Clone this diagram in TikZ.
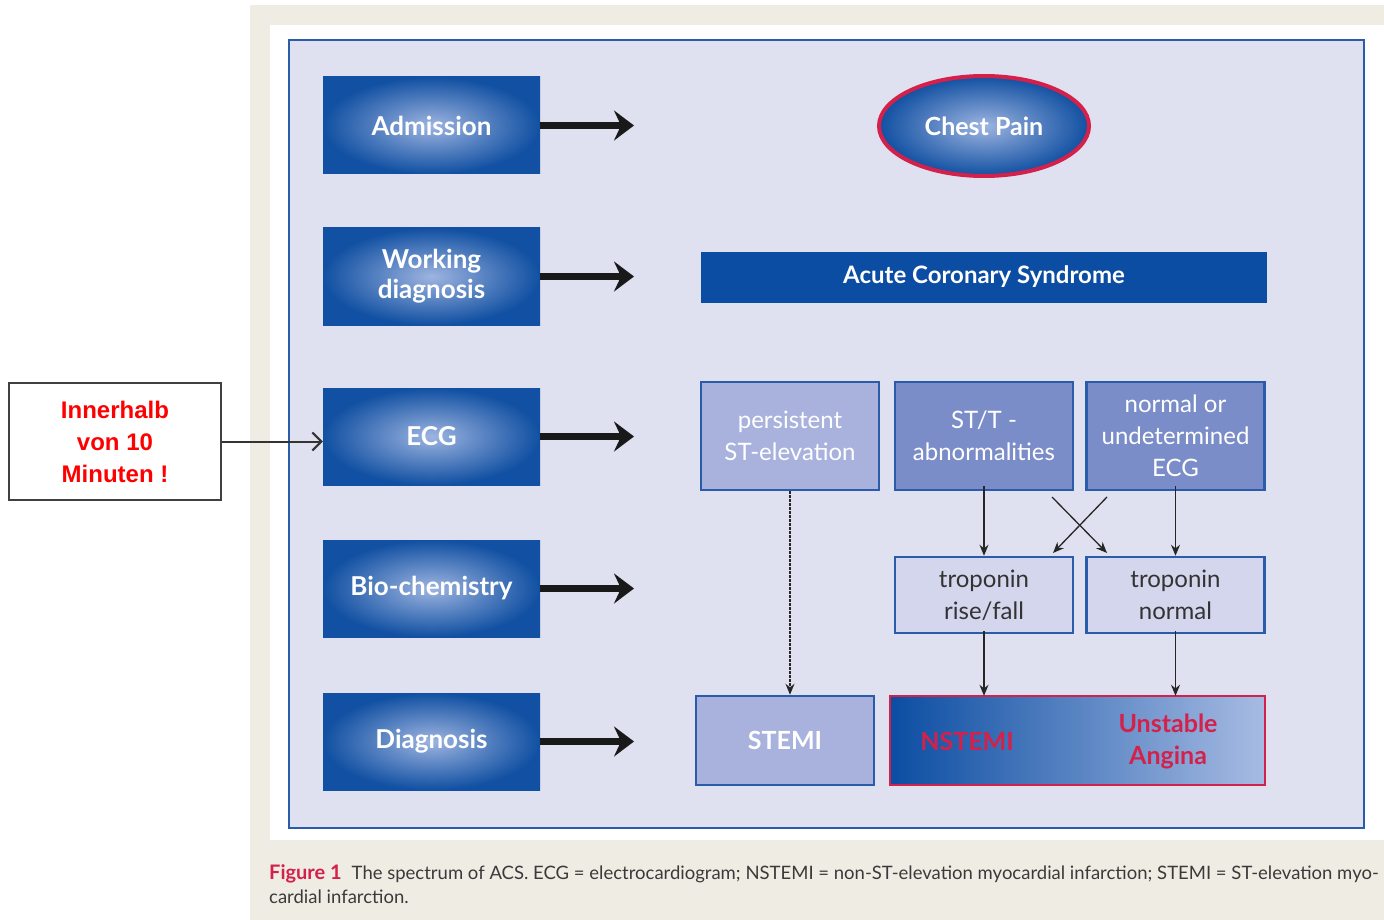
\documentclass[tikz,border=0pt]{standalone}
\usepackage{fontspec}
\setmainfont{Lato}
\newfontfamily\arialfont{Liberation Sans}
\usetikzlibrary{arrows.meta,shapes.geometric}
\definecolor{beige}{HTML}{EFECE3}
\definecolor{lav}{HTML}{E0E1F0}
\definecolor{pborder}{HTML}{2A5CAA}
\definecolor{dblue}{HTML}{1150A2}
\definecolor{lblue}{HTML}{9DB4E0}
\definecolor{acsblue}{HTML}{0B4DA2}
\definecolor{pfill}{HTML}{A8B2DC}
\definecolor{mfill}{HTML}{7B8DC8}
\definecolor{tfill}{HTML}{D3D6EC}
\definecolor{redb}{HTML}{D4214C}
\definecolor{capgray}{HTML}{3A3A3A}
\tikzset{
  stagebox/.style={minimum width=217pt,minimum height=97pt,inner sep=0pt,
    shade,inner color=lblue,outer color=dblue,text=white,font=\fontsize{26}{30}\selectfont\bfseries,align=center},
  ecgbox/.style={draw=pborder,line width=2.5pt,fill=mfill,minimum width=178pt,minimum height=108pt,inner sep=0pt,
    text=white,font=\fontsize{24}{32}\selectfont,align=center},
  tropbox/.style={draw=pborder,line width=2.5pt,fill=tfill,minimum width=178pt,minimum height=76pt,inner sep=0pt,
    text=black!80,font=\fontsize{24}{32}\selectfont,align=center},
  bigarrow/.style={line width=7pt,-{Stealth[length=20pt,width=30pt,inset=7pt]},black!90},
  smallarrow/.style={line width=1.3pt,-{Stealth[length=11pt,width=9pt]},black!85},
}
\begin{document}
\begin{tikzpicture}[x=1pt,y=-1pt]
\useasboundingbox (0,0) rectangle (1384,920);
\fill[white] (0,0) rectangle (1384,920);
% backgrounds
\fill[beige] (250,5) rectangle (1384,920);
\fill[white] (270,25) rectangle (1384,840);
\draw[pborder,fill=lav,line width=2.5pt] (289,40) rectangle (1364,828);

% stage boxes
\node[stagebox] (adm) at (431.5,125.5) {Admission};
\node[stagebox] (work) at (431.5,276.5) {Working\\diagnosis};
\node[stagebox] (ecg) at (431.5,436.5) {ECG};
\node[stagebox] (bio) at (431.5,588.5) {Bio-chemistry};
\node[stagebox] (diag) at (431.5,741.5) {Diagnosis};

% targets for big arrows
\coordinate (t1) at (634,125.5);
\coordinate (t2) at (634,276.5);
\coordinate (t3) at (634,436.5);
\coordinate (t4) at (634,588.5);
\coordinate (t5) at (634,741.5);
\foreach \s/\t in {adm/t1,work/t2,ecg/t3,bio/t4,diag/t5}
  \draw[bigarrow] (\s.east) -- (\t);

% chest pain
\node[ellipse,draw=redb,line width=4pt,shade,inner color=lblue,outer color=dblue,
  minimum width=210pt,minimum height=100pt,text=white,font=\fontsize{25}{28}\selectfont\bfseries] (cp) at (984,126) {Chest Pain};

% ACS bar
\node[fill=acsblue,minimum width=566pt,minimum height=51pt,inner sep=0pt,text=white,
  font=\fontsize{24}{28}\selectfont\bfseries] (acs) at (984,277) {Acute Coronary Syndrome};

% ECG boxes
\node[ecgbox,fill=pfill] (pers) at (790,436) {persistent\\ST-elevation};
\node[ecgbox] (stt) at (984,436) {ST/T -\\abnormalities};
\node[ecgbox] (norm) at (1175.5,436) {normal or\\undetermined\\ECG};

% troponin boxes
\node[tropbox] (trise) at (984,595) {troponin\\rise/fall};
\node[tropbox] (tnorm) at (1175.5,595) {troponin\\normal};

% diagnosis boxes
\node[draw=pborder,line width=2.5pt,fill=pfill,minimum width=178pt,minimum height=89pt,inner sep=0pt,
  text=white,font=\fontsize{25}{28}\selectfont\bfseries] (stemi) at (785,740.5) {STEMI};
\shade[left color=acsblue,right color=lblue!90!white] (890,696) rectangle (1265,785);
\draw[redb,line width=2.5pt] (890,696) rectangle (1265,785);
\node[inner sep=0pt,minimum width=375pt,minimum height=89pt] (nst) at (1077.5,740.5) {};
\node[text=redb,font=\fontsize{25}{28}\selectfont\bfseries] (nstl) at (967,741) {NSTEMI};
\node[text=redb,font=\fontsize{25}{32}\selectfont\bfseries,align=center] (ual) at (1168,741) {Unstable\\Angina};

% connectors
\draw[black!85,line width=1.2pt,dash pattern=on 2.5pt off 1.5pt,-{Stealth[length=11pt,width=9pt]}] (pers.south) -- (pers.south |- stemi.north);
\draw[smallarrow] ([yshift=5pt]stt.south) -- (trise.north);
\draw[smallarrow] ([yshift=5pt]norm.south) -- (tnorm.north);
\coordinate (xa1) at (1052,497);
\coordinate (xa2) at (1107,553);
\coordinate (xb1) at (1107,497);
\coordinate (xb2) at (1053,553);
\draw[smallarrow] (xa1) -- (xa2);
\draw[smallarrow] (xb1) -- (xb2);
\draw[smallarrow] ([yshift=3pt]trise.south) -- (trise.south |- nst.north);
\draw[smallarrow] ([yshift=3pt]tnorm.south) -- (tnorm.south |- nst.north);

% callout
\node[draw=black!75,line width=2.5pt,fill=white,minimum width=212pt,minimum height=117pt,inner sep=0pt,
  text=red,font=\arialfont\fontsize{24}{32}\selectfont\bfseries,align=center] (call) at (115,441.5) {Innerhalb\\von 10\\Minuten !};
\draw[black!80,line width=2pt,-{Straight Barb[length=9pt,width=18pt,line width=2pt]}] (call.east) -- (ecg.west |- call.east);

% caption
\node[anchor=base west,inner sep=0pt,font=\fontsize{18.5}{20}\selectfont,text=capgray] (cap1) at (269,879)
  {{\color{redb}\bfseries\fontsize{20}{20}\selectfont Figure 1}\hspace{10pt}The spectrum of ACS. ECG = electrocardiogram; NSTEMI = non-ST-elevation myocardial infarction; STEMI = ST-elevation myo-};
\node[anchor=base west,inner sep=0pt,font=\fontsize{18.5}{20}\selectfont,text=capgray] (cap2) at (269,903) {cardial infarction.};
\end{tikzpicture}
\end{document}
